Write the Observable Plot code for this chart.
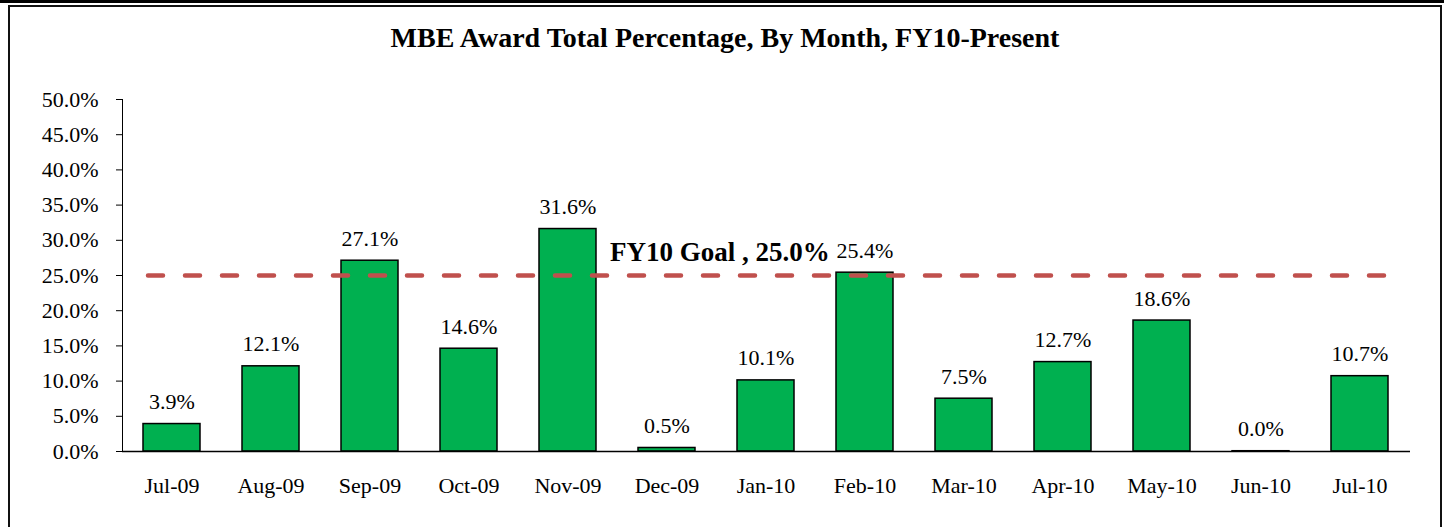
<!DOCTYPE html>
<html>
<head>
<meta charset="utf-8">
<script src="https://cdn.jsdelivr.net/npm/d3@7"></script>
<script src="https://cdn.jsdelivr.net/npm/@observablehq/plot@0.6"></script>
<style>
  html, body { margin: 0; padding: 0; background: #fff; }
  body { width: 1444px; height: 527px; overflow: hidden; position: relative; font-family: "Liberation Serif", serif; }
  #topbar { position: absolute; left: 0; top: 0; width: 1444px; height: 3px; background: #000; }
  #frame { position: absolute; left: 8px; top: 5px; width: 1434px; height: 600px; border: 2px solid #111; box-sizing: border-box; }
  #title { position: absolute; left: 8px; width: 1434px; top: 23px; line-height: 30px; font-size: 28px; font-weight: bold; text-align: center; color: #000; font-family: "Liberation Serif", serif; }
  #chart { position: absolute; left: 0; top: 0; }
  #chart svg, #chart svg text { font-family: "Liberation Serif", serif !important; }
</style>
</head>
<body>
<div id="topbar"></div>
<div id="frame"></div>
<div id="title"></div>
<div id="chart"></div>
<script>
const titleText = "MBE Award Total Percentage, By Month, FY10-Present";
const months = ["Jul-09","Aug-09","Sep-09","Oct-09","Nov-09","Dec-09","Jan-10","Feb-10","Mar-10","Apr-10","May-10","Jun-10","Jul-10"];
const values = [3.9, 12.1, 27.1, 14.6, 31.6, 0.5, 10.1, 25.4, 7.5, 12.7, 18.6, 0.04, 10.7];
const yTicks = [0, 5, 10, 15, 20, 25, 30, 35, 40, 45, 50];
const goalValue = 25.0;
const goalLabel = "FY10 Goal , 25.0%";
const goalLabelMonth = "Dec-09";

document.getElementById("title").textContent = titleText;

const data = months.map((m, i) => ({month: m, value: values[i]}));
const fmt = v => v.toFixed(1) + "%";

const chart = Plot.plot({
  width: 1444,
  height: 527,
  marginTop: 99,
  marginBottom: 76,
  marginLeft: 122,
  marginRight: 34,
  style: {fontFamily: "Liberation Serif, serif", fontSize: "22px", background: "transparent", color: "#000", overflow: "visible"},
  x: {domain: months, paddingInner: 0.42, paddingOuter: 0.21, label: null, tickSize: 0, tickPadding: 26},
  y: {domain: [0, 50], ticks: yTicks, tickFormat: fmt, tickSize: 6, tickPadding: 18, label: null, line: true},
  marks: [
    Plot.barY(data, {x: "month", y: "value", fill: "#00B050", stroke: "#000", strokeWidth: 1.5}),
    Plot.ruleY([0], {stroke: "#000", strokeWidth: 1.5}),
    Plot.ruleY([goalValue], {stroke: "#C0504D", strokeWidth: 4.5, strokeDasharray: "15,22", strokeLinecap: "round", insetLeft: 26, insetRight: 18}),
    Plot.text(data, {x: "month", y: "value", text: d => fmt(d.value), dy: -22, fontSize: 22, fill: "#000"}),
    Plot.text([goalValue], {x: () => goalLabelMonth, y: d => d, text: () => goalLabel, textAnchor: "start", dx: -57, dy: -23, fontSize: 27, fontWeight: "bold", fill: "#000"})
  ]
});
document.getElementById("chart").appendChild(chart);
</script>
</body>
</html>
